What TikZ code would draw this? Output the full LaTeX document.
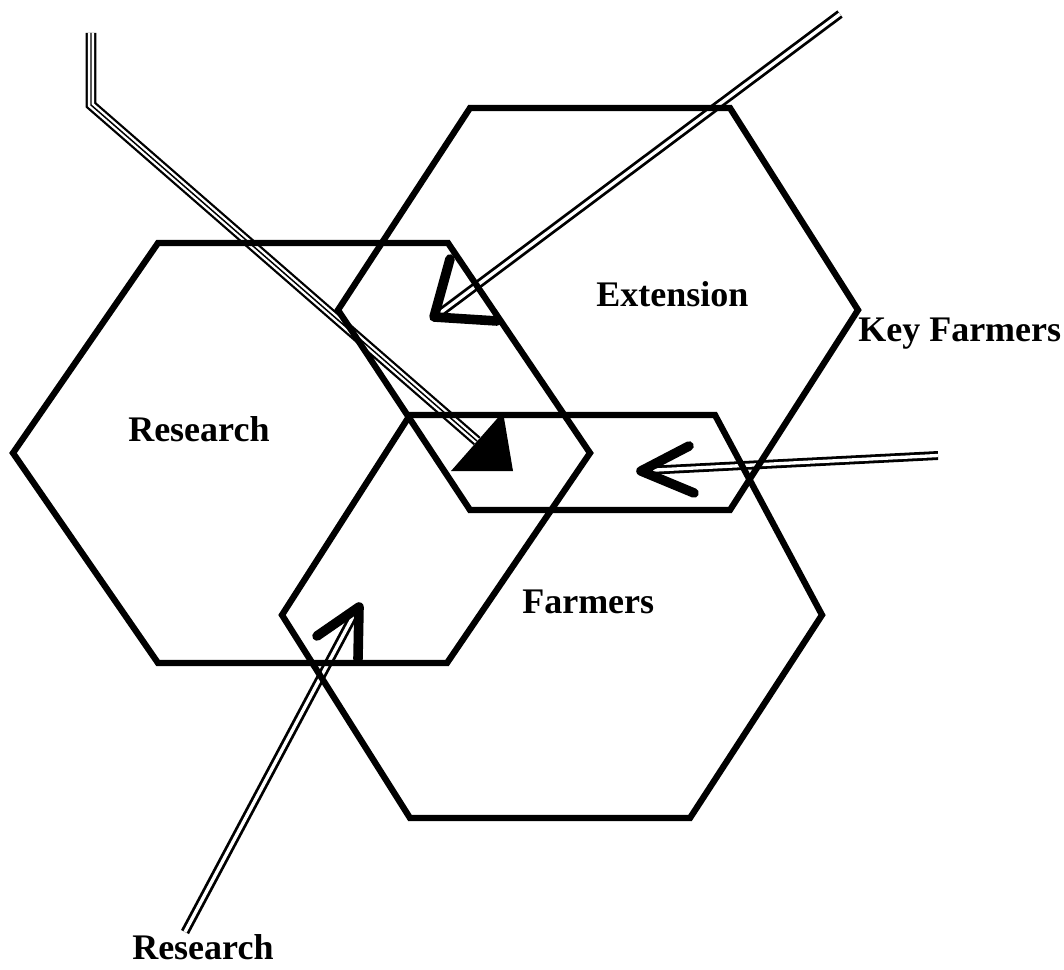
\documentclass[tikz,border=0pt]{standalone}
\usepackage{fontspec}
\setmainfont{Liberation Serif}
\begin{document}
\begin{tikzpicture}[x=0.75pt,y=-0.75pt,
  hexline/.style={line width=4.7pt, line join=miter},
  dbl/.style={line width=2.1pt, double distance=2.5pt},
  tpl/.style={line width=1.7pt, double distance=4.6pt, line join=miter},
  midline/.style={line width=1.1pt, line join=miter},
  chev/.style={line width=7.2pt, line cap=round, line join=round},
  lbl/.style={font=\fontsize{27}{32}\selectfont\bfseries, anchor=base west, inner sep=0pt}]
\useasboundingbox (0,0) rectangle (1064,970);

% end points of the connectors
\coordinate (rTop)  at (91,33);
\coordinate (rBend) at (91,105);
\coordinate (rEnd)  at (477,441);
\coordinate (eStart) at (840,14);
\coordinate (eEnd)   at (440,313);
\coordinate (kStart) at (938,455.5);
\coordinate (kEnd)   at (646,470.5);
\coordinate (bStart) at (185,932);
\coordinate (bEnd)   at (356,611);

% connector shafts (drawn first so the hexagon outlines lie on top)
\draw[tpl] (rTop) -- (rBend) -- (rEnd);
\draw[midline] (rTop) -- (rBend) -- (rEnd);
\draw[dbl] (eStart) -- (eEnd);
\draw[dbl] (kStart) -- (kEnd);
\draw[dbl] (bStart) -- (bEnd);

% the three hexagons
\draw[hexline] (13,453) -- (158,243) -- (448,243) -- (590,453) -- (447,663) -- (158,663) -- cycle;
\draw[hexline] (338,310) -- (470,108) -- (730,108) -- (858,310) -- (730,510) -- (470,510) -- cycle;
\draw[hexline] (282,615) -- (410,415) -- (715,415) -- (822,615) -- (690,818) -- (410,818) -- cycle;

% arrowheads
\coordinate (rTip) at (513,471);
\coordinate (rW1) at (451,471);
\coordinate (rW2) at (503,412);
\fill (rW1) -- (rW2) -- (rTip) -- cycle;

\coordinate (eTip) at (434,317);
\coordinate (eW1) at (450,259);
\coordinate (eW2) at (497,321);
\draw[chev] (eW1) -- (eTip) -- (eW2);

\coordinate (kTip) at (641,471);
\coordinate (kW1) at (689,446);
\coordinate (kW2) at (694,493);
\draw[chev] (kW1) -- (kTip) -- (kW2);

\coordinate (bTip) at (359,607);
\coordinate (bW1) at (317,636);
\coordinate (bW2) at (358,659);
\draw[chev] (bW1) -- (bTip) -- (bW2);

% labels
\node[lbl] (lresearch) at (128,441) {Research};
\node[lbl] (lextension) at (596,306) {Extension};
\node[lbl] (lkey) at (858,341) {Key Farmers};
\node[lbl] (lfarmers) at (522,613) {Farmers};
\node[lbl] (lresearch2) at (132,959) {Research};
\end{tikzpicture}
\end{document}
